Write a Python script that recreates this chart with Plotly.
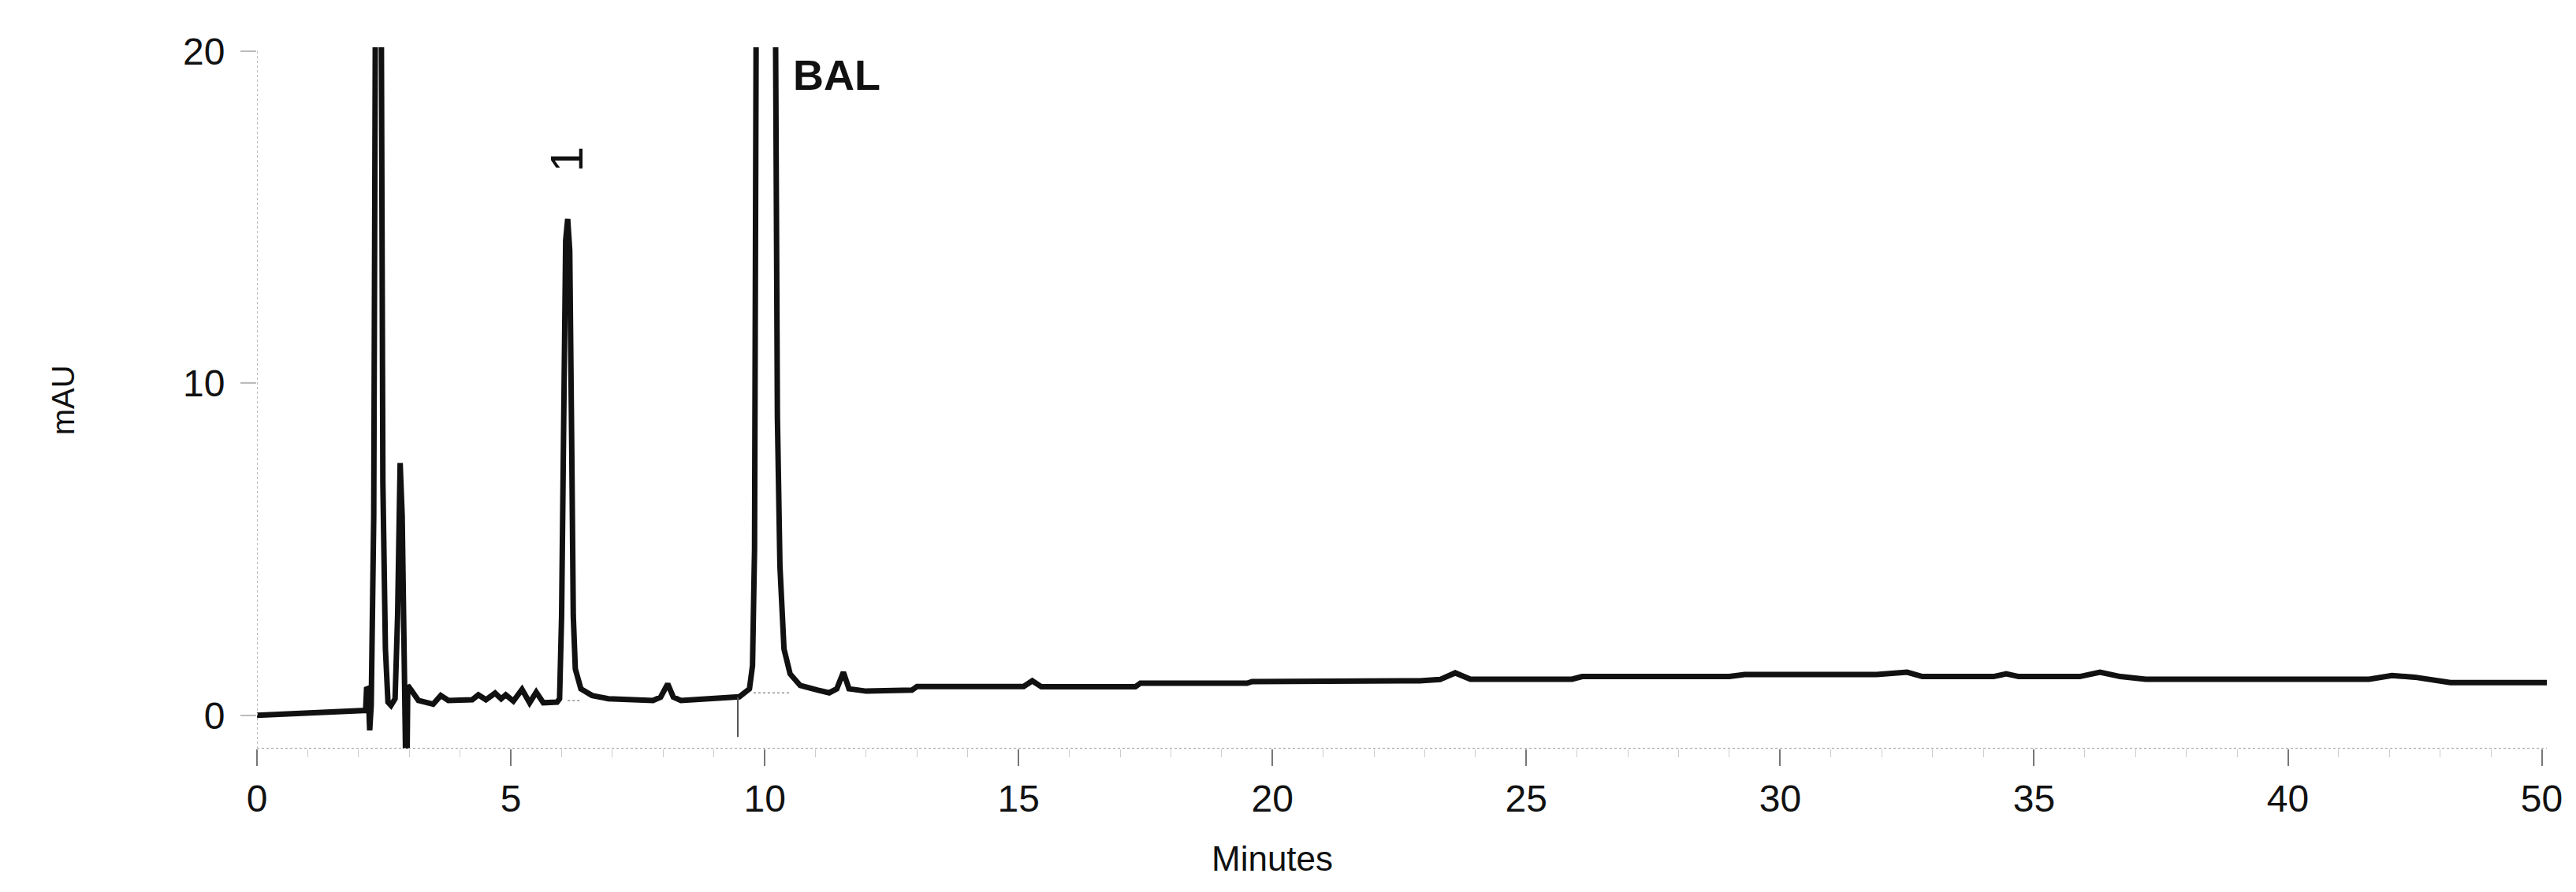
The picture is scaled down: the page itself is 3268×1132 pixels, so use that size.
import plotly.graph_objects as go

# chromatogram trace (minutes, mAU)
time_min = [0.0, 1.0, 2.14, 2.16, 2.19, 2.22, 2.25, 2.3, 2.34, 2.44, 2.48, 2.53, 2.58,
            2.64, 2.72, 2.77, 2.82, 2.86, 2.89, 2.915, 2.93, 2.955, 2.97, 3.03, 3.18,
            3.47, 3.62, 3.77, 4.24, 4.36, 4.51, 4.69, 4.81, 4.9, 5.05, 5.22, 5.37, 5.5,
            5.64, 5.91, 5.96, 6.0, 6.03, 6.08, 6.12, 6.16, 6.2, 6.23, 6.27, 6.38, 6.6,
            6.92, 7.8, 7.95, 8.09, 8.2, 8.35, 9.0, 9.5, 9.7, 9.76, 9.8, 9.84, 10.2,
            10.25, 10.3, 10.38, 10.5, 10.7, 11.05, 11.27, 11.42, 11.55, 11.66, 12.0,
            12.9, 13.0, 14.4, 15.1, 15.27, 15.45, 17.3, 17.4, 19.5, 19.6, 22.9, 23.3,
            23.6, 23.9, 25.9, 26.1, 29.0, 29.3, 31.9, 32.2, 32.5, 32.8, 34.2, 34.45,
            34.7, 35.9, 36.3, 36.7, 37.2, 41.6, 42.05, 42.5, 43.2, 45.1]
signal_mau = [0.0, 0.07, 0.15, 0.85, 0.8, -0.45, 0.3, 6, 25, 25, 7, 2, 0.4,
              0.3, 0.5, 3, 7.6, 6, 1.5, 0.6, -1.5, -1.5, 0.9, 0.78, 0.45,
              0.34, 0.6, 0.45, 0.47, 0.62, 0.47, 0.67, 0.5, 0.62, 0.43, 0.78, 0.38, 0.7,
              0.38, 0.4, 0.5, 3, 9, 14.3, 14.95, 14, 8, 3, 1.4, 0.8, 0.6,
              0.5, 0.45, 0.55, 0.95, 0.55, 0.45, 0.5, 0.56, 0.8, 1.5, 5, 25, 25,
              9, 4.5, 2.0, 1.25, 0.9, 0.76, 0.68, 0.8, 1.3, 0.8, 0.73,
              0.76, 0.87, 0.87, 0.87, 1.04, 0.86, 0.86, 0.97, 0.97, 1.02, 1.04, 1.08,
              1.28, 1.09, 1.09, 1.17, 1.17, 1.23, 1.23, 1.25, 1.3, 1.17, 1.17, 1.25,
              1.17, 1.17, 1.3, 1.17, 1.09, 1.09, 1.2, 1.15, 0.99, 0.99]

x_tick_vals = [0, 5, 10, 15, 20, 25, 30, 35, 40, 45]
x_tick_text = ["0", "5", "10", "15", "20", "25", "30", "35", "40", "50"]
y_tick_vals = [0, 10, 20]

peak_names = ["1", "BAL"]
peak_label_x = [6.09, 10.52]
peak_label_y = [16.75, 19.3]

# integration event marks left on the trace
event_x = [9.47]
event_y0 = [0.55]
event_y1 = [-0.65]
base_x0 = [6.12, 9.78]
base_x1 = [6.4, 10.5]
base_y = [0.45, 0.68]

font_family = "Liberation Sans, Arial, sans-serif"

fig = go.Figure()
fig.add_trace(go.Scatter(x=time_min, y=signal_mau, mode="lines",
                         line=dict(color="#111111", width=7), hoverinfo="skip"))

# axis lines drawn dotted like the scan
fig.add_shape(type="line", x0=0, x1=45.1, y0=-1, y1=-1, xref="x", yref="y",
              line=dict(color="#9a9a9a", width=2, dash="dot"))
fig.add_shape(type="line", x0=0, x1=0, y0=-1, y1=20, xref="x", yref="y",
              line=dict(color="#bbbbbb", width=2, dash="dot"))

for ex, e0, e1 in zip(event_x, event_y0, event_y1):
    fig.add_shape(type="line", x0=ex, x1=ex, y0=e0, y1=e1, xref="x", yref="y",
                  line=dict(color="#555555", width=2))
for b0, b1, by in zip(base_x0, base_x1, base_y):
    fig.add_shape(type="line", x0=b0, x1=b1, y0=by, y1=by, xref="x", yref="y",
                  line=dict(color="#aaaaaa", width=2, dash="dot"))

fig.add_annotation(x=peak_label_x[0], y=peak_label_y[0], text=peak_names[0],
                   showarrow=False, textangle=-90,
                   font=dict(family=font_family, size=58, color="#111111"))
fig.add_annotation(x=peak_label_x[1], y=peak_label_y[1], text="<b>" + peak_names[1] + "</b>",
                   showarrow=False, xanchor="left",
                   font=dict(family=font_family, size=54, color="#111111"))

fig.add_annotation(x=20, y=-0.157, xref="x", yref="paper", text="Minutes",
                   showarrow=False, yanchor="middle",
                   font=dict(family=font_family, size=44, color="#111111"))
fig.add_annotation(x=-0.093, y=9.5, xref="paper", yref="y", text="mAU",
                   showarrow=False, textangle=-90,
                   font=dict(family=font_family, size=40, color="#111111"))

fig.update_layout(
    width=3268, height=1132,
    margin=dict(l=318, r=45, t=52, b=190),
    paper_bgcolor="white", plot_bgcolor="white",
    showlegend=False,
    font=dict(family=font_family, size=48, color="#111111"),
)
fig.update_xaxes(range=[0, 45.1], tickvals=x_tick_vals, ticktext=x_tick_text,
                 ticks="outside", ticklen=21, tickwidth=2, tickcolor="#777777",
                 ticklabelstandoff=0,
                 minor=dict(dtick=1, ticks="outside", ticklen=10, tickcolor="#cccccc", tickwidth=1),
                 showgrid=False, zeroline=False, showline=False,
                 tickfont=dict(size=48))
fig.update_yaxes(range=[-1, 20.12], tickvals=y_tick_vals,
                 ticks="outside", ticklen=20, tickwidth=2, tickcolor="#bbbbbb",
                 ticklabelstandoff=10,
                 showgrid=False, zeroline=False, showline=False,
                 tickfont=dict(size=48))

fig.write_html("out.html")
